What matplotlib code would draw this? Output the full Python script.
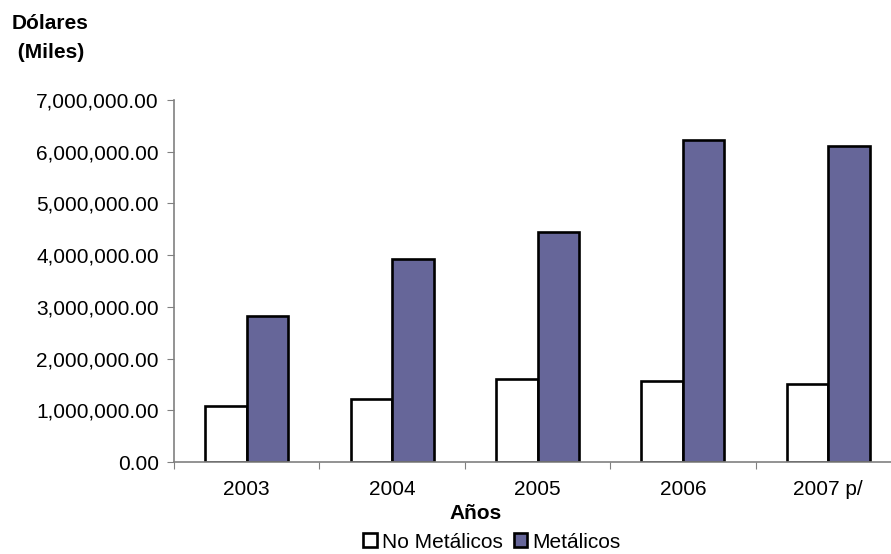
import numpy as np
import matplotlib.pyplot as plt
from matplotlib.ticker import FuncFormatter

anios = ['2003', '2004', '2005', '2006', '2007 p/']
no_metalicos = [1080000, 1220000, 1610000, 1570000, 1510000]
metalicos = [2830000, 3930000, 4440000, 6230000, 6110000]

plt.rcParams['font.family'] = ['Liberation Sans', 'DejaVu Sans']

W, H = 891, 554
fig = plt.figure(figsize=(W / 100, H / 100), dpi=100)
ax = fig.add_axes([174 / W, 92 / H, 727 / W, 362 / H])

x = np.arange(len(anios))
w = 0.285
ax.bar(x - w, no_metalicos, w, align='edge', color='white', edgecolor='black',
       linewidth=1.9, label='No Metálicos')
ax.bar(x, metalicos, w, align='edge', color='#666699', edgecolor='black',
       linewidth=1.9, label='Metálicos')

ax.set_xlim(-0.5, len(anios) - 0.5)
ax.set_ylim(0, 7000000)
ax.set_yticks(np.arange(0, 7000001, 1000000))
ax.yaxis.set_major_formatter(FuncFormatter(lambda v, p: '{:,.2f}'.format(v)))

# ticks between categories, labels centered
ax.set_xticks(np.arange(-0.5, len(anios), 1.0))
ax.set_xticklabels([])
ax.set_xticks(x, minor=True)
ax.set_xticklabels(anios, minor=True)
ax.tick_params(axis='x', which='minor', length=0, pad=13, labelsize=15)
ax.tick_params(axis='x', which='major', length=5, color='#808080')
ax.tick_params(axis='y', length=5, color='#808080', labelsize=15, pad=6)

for s in ['top', 'right']:
    ax.spines[s].set_visible(False)
for s in ['left', 'bottom']:
    ax.spines[s].set_color('#808080')
    ax.spines[s].set_linewidth(1.2)

# titulos de ejes
fig.text(476 / W, 1 - 519 / H, 'Años', fontsize=15, fontweight='bold',
         ha='center', va='baseline')
fig.text(12 / W, 1 - 29 / H, 'Dólares', fontsize=15, fontweight='bold',
         ha='left', va='baseline')
fig.text(12 / W, 1 - 58 / H, ' (Miles)', fontsize=15, fontweight='bold',
         ha='left', va='baseline')

fig.legend(loc='center', bbox_to_anchor=(492 / W, 1 - 542 / H), ncol=2, frameon=False,
           fontsize=15, handlelength=0.65, handleheight=0.65, handletextpad=0.25,
           columnspacing=0.5, borderaxespad=0)

fig.savefig('out.png', dpi=100)
